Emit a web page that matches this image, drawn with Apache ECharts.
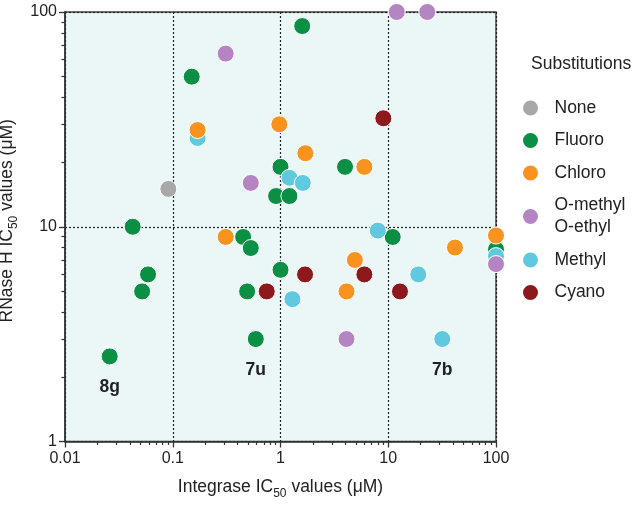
<!DOCTYPE html>
<html><head><meta charset="utf-8">
<script src="https://cdn.jsdelivr.net/npm/echarts@6/dist/echarts.min.js"></script>
<style>html,body{margin:0;padding:0;background:#fff}#c{width:640px;height:507px}</style>
</head><body><div id="c"></div>
<script>
// Legend order
const legendOrder = ['None', 'Fluoro', 'Chloro', 'O-methyl\nO-ethyl', 'Methyl', 'Cyano'];
const colors = {
  'None': '#a8a8a8', 'Fluoro': '#0a8f45', 'Chloro': '#f7931e',
  'O-methyl\nO-ethyl': '#b585c3', 'Methyl': '#5fc9e0', 'Cyano': '#8c1a1d'
};
// Integrase IC50 (x) and RNase H IC50 (y), µM
const noneX = [0.091];
const noneY = [15];
const fluoroX = [1.59, 0.15, 1.0, 3.97, 0.91, 1.21, 0.0425, 0.45, 0.53, 11, 0.059, 0.052, 0.026, 1.0, 0.49, 0.59, 100];
const fluoroY = [86, 50, 19, 19, 13.9, 13.9, 10, 8.96, 7.96, 8.96, 6.0, 5.0, 2.49, 6.3, 5.0, 3.0, 7.85];
const chloroX = [0.17, 0.975, 1.70, 6.0, 0.31, 100, 41.6, 4.9, 4.1];
const chloroY = [28.2, 30, 22, 19, 8.96, 9.1, 8.0, 7.0, 5.0];
const omethylX = [0.31, 0.53, 12, 23, 4.1, 100];
const omethylY = [64, 16, 100, 100, 3.0, 6.7];
const methylX = [0.17, 1.21, 1.61, 8.0, 19, 31.7, 1.29, 100];
const methylY = [25.9, 16.9, 16, 9.6, 6.0, 3.0, 4.6, 7.3];
const cyanoX = [9.0, 1.69, 6.0, 12.85, 0.745, 100];
const cyanoY = [32, 6.0, 6.0, 5.0, 5.0, 7.9];
// Compound annotations: [series, index in that series, text]
const annotations = [['Fluoro', 12, '8g'], ['Fluoro', 15, '7u'], ['Methyl', 5, '7b']];
// Axis ticks (decades)
const xTicks = [0.01, 0.1, 1, 10, 100];
const yTicks = [1, 10, 100];

// drawing order (later = on top)
const drawOrder = [
  ['Cyano', cyanoX, cyanoY],
  ['None', noneX, noneY],
  ['Fluoro', fluoroX, fluoroY],
  ['Methyl', methylX, methylY],
  ['Chloro', chloroX, chloroY],
  ['O-methyl\nO-ethyl', omethylX, omethylY]
];

const txt = '#222';
const series = drawOrder.map(([name, xs, ys]) => ({
  name, type: 'scatter', clip: false, symbol: 'circle', symbolSize: 17,
  itemStyle: { color: colors[name], borderColor: '#ffffff', borderWidth: 1, opacity: 1 },
  emphasis: { disabled: true },
  data: xs.map((x, i) => {
    const item = { value: [x, ys[i]] };
    const a = annotations.find(an => an[0] === name && an[1] === i);
    if (a) item.label = { show: true, formatter: a[2], position: 'bottom', distance: 13,
      fontSize: 17.5, fontWeight: 'bold', color: txt, fontFamily: 'Liberation Sans' };
    return item;
  })
}));

const rich = {
  m: { fontSize: 17.5, color: txt, fontFamily: 'Liberation Sans' },
  s: { fontSize: 12, color: txt, fontFamily: 'Liberation Sans', padding: [13, 0, 0, 0] }
};
const axisCommon = {
  type: 'log', logBase: 10,
  axisLine: { show: true, onZero: false, lineStyle: { color: '#333', width: 1.5 } },
  axisTick: { show: true, length: 6, lineStyle: { color: '#333', width: 1.3 } },
  minorTick: { show: true, splitNumber: 9, length: 3.5, lineStyle: { color: '#333', width: 1.2 } },
  splitLine: { show: true, lineStyle: { color: '#222', type: [2, 2], width: 1.2 } },
  minorSplitLine: { show: false },
  axisLabel: { fontSize: 16, color: txt, fontFamily: 'Liberation Sans',
    formatter: v => String(+v.toPrecision(3)) },
  nameLocation: 'middle',
  nameTextStyle: { fontSize: 17.5, color: txt, fontFamily: 'Liberation Sans', rich }
};

const chart = echarts.init(document.getElementById('c'), null, { renderer: 'canvas' });
chart.setOption({
  animation: false,
  backgroundColor: '#ffffff',
  textStyle: { fontFamily: 'Liberation Sans' },
  grid: { left: 65, right: 144, top: 12, bottom: 65.5, show: true, outerBoundsMode: 'none',
    backgroundColor: '#ebf7f7', borderColor: '#444', borderWidth: 1.5, containLabel: false },
  title: { text: 'Substitutions', left: 531, top: 55, padding: 0,
    textStyle: { fontSize: 17.5, fontWeight: 'normal', color: txt, fontFamily: 'Liberation Sans' } },
  legend: { orient: 'vertical', left: 521, top: 97, padding: 0, itemWidth: 38, itemHeight: 17,
    itemGap: 10.5, icon: 'circle', data: legendOrder, selectedMode: false,
    textStyle: { fontSize: 17.5, color: txt, lineHeight: 22, fontFamily: 'Liberation Sans' } },
  xAxis: Object.assign({}, axisCommon, {
    position: 'bottom',
    min: xTicks[0], max: xTicks[xTicks.length - 1],
    name: '{m|Integrase IC}{s|50}{m| values (μM)}', nameGap: 33,
    axisLabel: Object.assign({}, axisCommon.axisLabel, { margin: 9 })
  }),
  yAxis: Object.assign({}, axisCommon, {
    position: 'left',
    min: yTicks[0], max: yTicks[yTicks.length - 1],
    name: '{m|RNase H IC}{s|50}{m| values (μM)}', nameGap: 30,
    nameTextStyle: Object.assign({}, axisCommon.nameTextStyle, { padding: [0, 0, 0, 12] }),
    axisLabel: Object.assign({}, axisCommon.axisLabel, { margin: 8 })
  }),
  series
});
</script></body></html>
